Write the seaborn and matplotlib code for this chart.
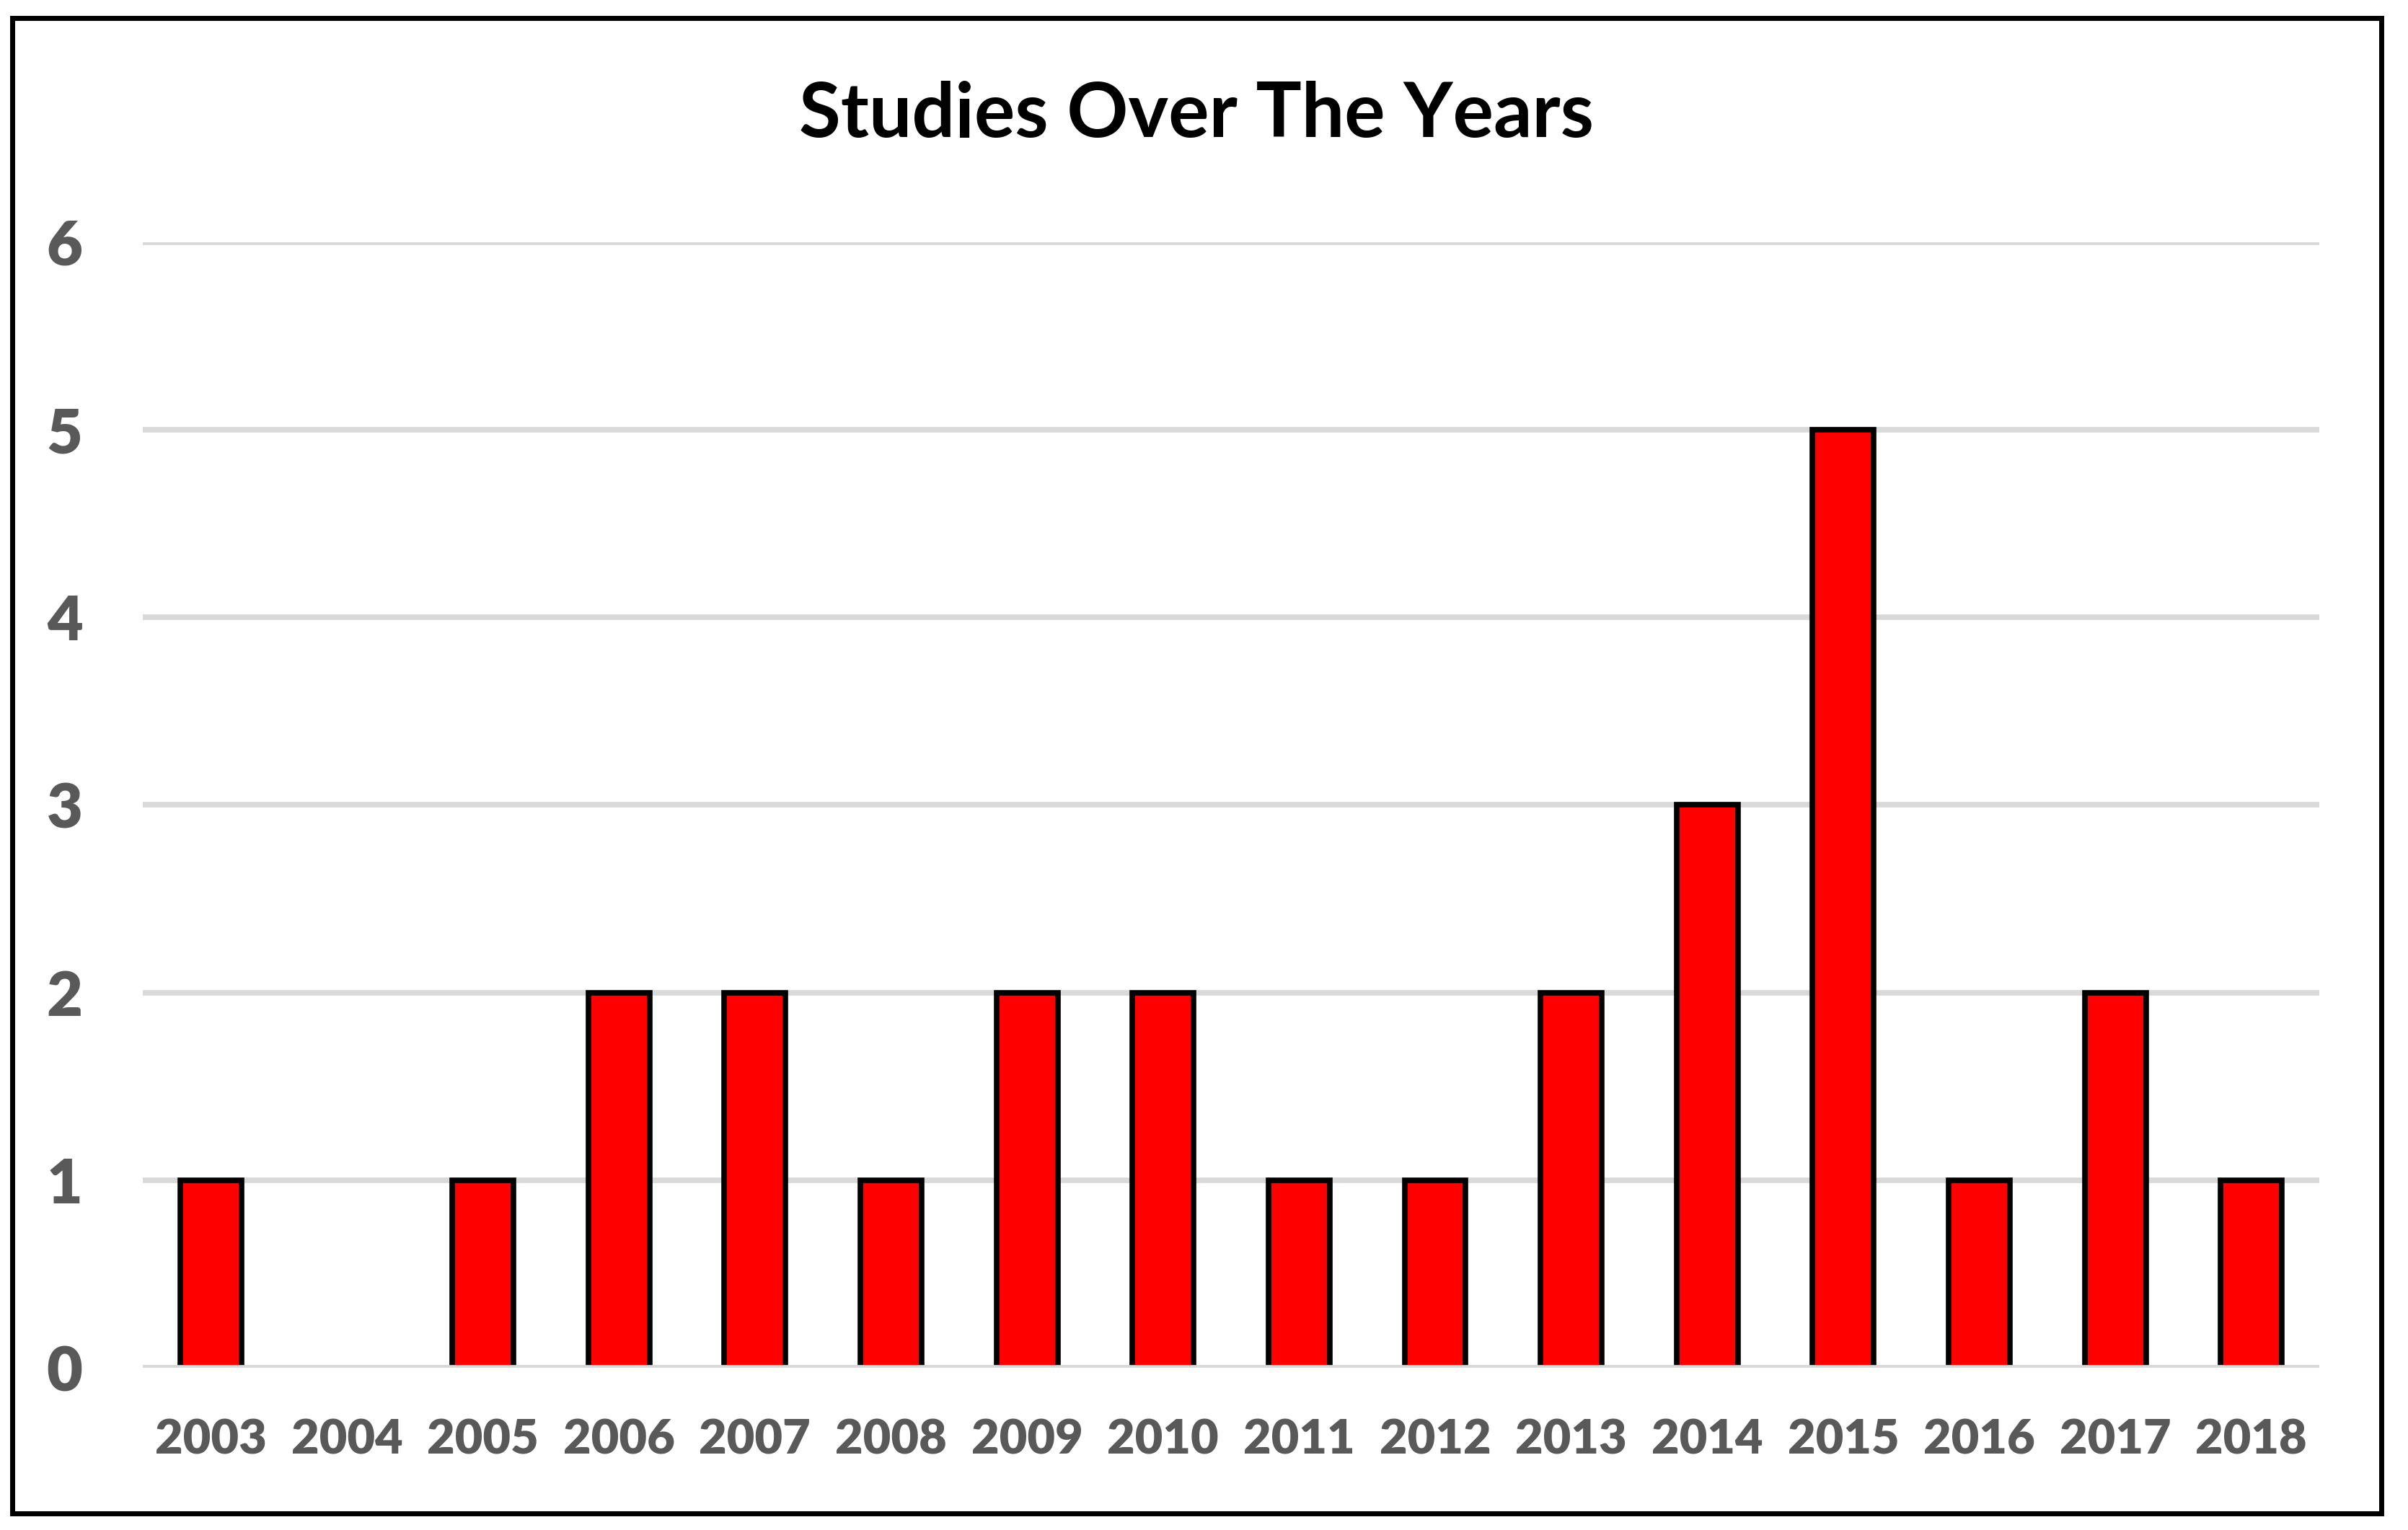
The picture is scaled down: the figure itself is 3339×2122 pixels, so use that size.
import matplotlib
matplotlib.use("Agg")
import matplotlib.pyplot as plt
from matplotlib.patches import Rectangle
import seaborn as sns
import pandas as pd

# 연도별 연구 수
years = ["2003", "2004", "2005", "2006", "2007", "2008", "2009", "2010",
         "2011", "2012", "2013", "2014", "2015", "2016", "2017", "2018"]
studies = [1, 0, 1, 2, 2, 1, 2, 2, 1, 1, 2, 3, 5, 1, 2, 1]
y_ticks = [0, 1, 2, 3, 4, 5, 6]
title = "Studies Over The Years"

df = pd.DataFrame({"year": years, "studies": studies})

sns.set_style("white")
plt.rcParams['font.family'] = ['Lato', 'DejaVu Sans']

fig = plt.figure(figsize=(33.39, 21.22), dpi=100)
ax = fig.add_axes([0.0593, 0.106, 0.9039, 0.7357])

sns.barplot(data=df, x="year", y="studies", color="#FF0000", saturation=1,
            edgecolor="black", linewidth=5.5, width=0.45, ax=ax, zorder=2)

# 0인 막대는 테두리 안 보이게
for p in ax.patches:
    if p.get_height() == 0:
        p.set_linewidth(0)

ax.set_ylim(0, 6)
ax.set_xlim(-0.5, len(years) - 0.5)
ax.set_yticks(y_ticks)
ax.yaxis.grid(True, color="#D9D9D9", linewidth=5.5, zorder=0)
ax.set_axisbelow(True)
ax.axhline(0, color="#D9D9D9", linewidth=5.5, zorder=3)
ax.set_xlabel("")
ax.set_ylabel("")
for s in ax.spines.values():
    s.set_visible(False)
ax.tick_params(axis="both", length=0, colors="#595959")
ax.tick_params(axis="y", labelsize=62, pad=60)
ax.tick_params(axis="x", labelsize=48, pad=50)
for lbl in ax.get_xticklabels() + ax.get_yticklabels():
    lbl.set_fontweight("heavy")

fig.text(0.497, 0.9246, title, ha="center", va="center",
         fontsize=76, fontweight="bold", color="black")

# 바깥 테두리
fig.patches.append(Rectangle((0.005, 0.011), 0.984, 0.977, transform=fig.transFigure,
                             fill=False, edgecolor="black", linewidth=5))

fig.savefig("out.png", dpi=100)
